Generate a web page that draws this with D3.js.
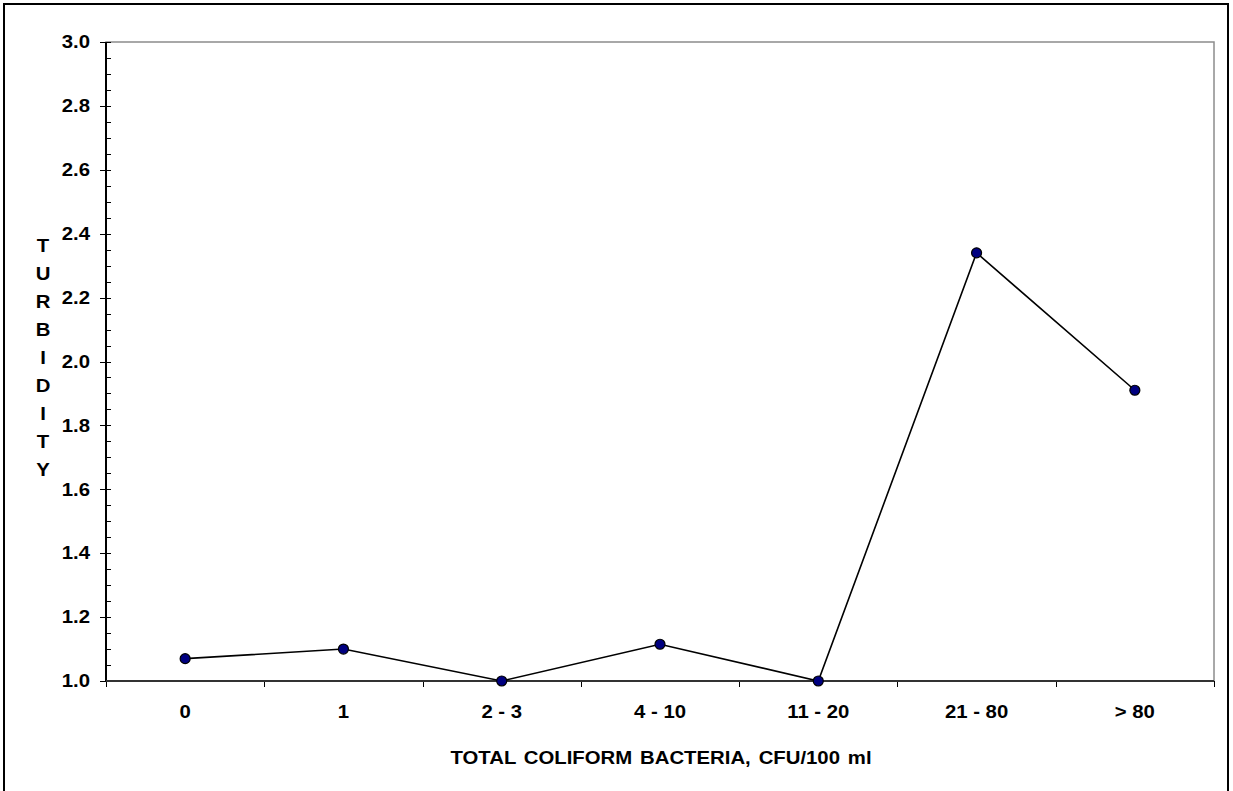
<!DOCTYPE html>
<html>
<head>
<meta charset="utf-8">
<script src="https://cdn.jsdelivr.net/npm/d3@7"></script>
<style>
  html, body { margin: 0; padding: 0; background: #fff; }
  svg { display: block; font-family: "Liberation Sans", Arial, sans-serif; }
</style>
</head>
<body>
<svg id="chart" width="1233" height="791"></svg>
<script>
const categories = ["0", "1", "2 - 3", "4 - 10", "11 - 20", "21 - 80", "> 80"];
const turbidity = [1.07, 1.10, 1.00, 1.115, 1.00, 2.34, 1.91];
const yTicks = [1.0, 1.2, 1.4, 1.6, 1.8, 2.0, 2.2, 2.4, 2.6, 2.8, 3.0];
const yLabelText = "TURBIDITY";
const xLabelText = "TOTAL COLIFORM BACTERIA, CFU/100 ml";

(function () {
const svg = d3.select("#chart");
const pL = 106, pR = 1214, pT = 42, pB = 681;
const SX = 1.13, FS = 18;

// outer frame
svg.append("rect").attr("x", 4).attr("y", 4).attr("width", 1224).attr("height", 800)
  .attr("fill", "none").attr("stroke", "#000").attr("stroke-width", 2);

const x = d3.scaleBand().domain(categories).range([pL, pR]).padding(0);
const y = d3.scaleLinear().domain([1.0, 3.0]).range([pB, pT]);

// plot border (gray)
svg.append("rect").attr("x", pL).attr("y", pT).attr("width", pR - pL).attr("height", pB - pT)
  .attr("fill", "none").attr("stroke", "#8c8c8c").attr("stroke-width", 1.5);

// minor y ticks
const minor = d3.range(1.0, 3.0001, 0.05);
svg.append("g").selectAll("line").data(minor).join("line")
  .attr("x1", pL).attr("x2", pL + 5)
  .attr("y1", d => Math.round(y(d)) + 0.5).attr("y2", d => Math.round(y(d)) + 0.5)
  .attr("stroke", "#000").attr("stroke-width", 1);

// y axis
const yAxis = d3.axisLeft(y).tickValues(yTicks).tickFormat(d3.format(".1f")).tickSize(0).tickPadding(16);
const gy = svg.append("g").attr("transform", `translate(${pL},0)`).call(yAxis);
gy.select(".domain").remove();
gy.selectAll("text").attr("font-size", FS).attr("font-weight", "bold").attr("fill", "#000")
  .attr("font-family", "'Liberation Sans', Arial, sans-serif")
  .attr("x", -16 / SX).attr("transform", `scale(${SX},1)`);
svg.append("g").selectAll("line").data(yTicks).join("line")
  .attr("x1", pL - 6).attr("x2", pL + 5)
  .attr("y1", d => Math.round(y(d)) + 0.5).attr("y2", d => Math.round(y(d)) + 0.5)
  .attr("stroke", "#000").attr("stroke-width", 1);
svg.append("line").attr("x1", pL).attr("x2", pL).attr("y1", pT).attr("y2", pB)
  .attr("stroke", "#000").attr("stroke-width", 2);

// x axis
const xBounds = categories.map(c => x(c)).concat([pR]);
svg.append("g").selectAll("line").data(xBounds).join("line")
  .attr("x1", d => Math.round(d) + 0.5).attr("x2", d => Math.round(d) + 0.5)
  .attr("y1", pB).attr("y2", pB + 6)
  .attr("stroke", "#000").attr("stroke-width", 1);
svg.append("line").attr("x1", pL).attr("x2", pR).attr("y1", pB).attr("y2", pB)
  .attr("stroke", "#333").attr("stroke-width", 2);

svg.append("g").selectAll("text").data(categories).join("text")
  .attr("transform", d => `translate(${x(d) + x.bandwidth() / 2},718) scale(${SX},1)`)
  .attr("text-anchor", "middle").attr("font-size", FS).attr("font-weight", "bold")
  .text(d => d);

// axis titles
svg.append("text").attr("transform", `translate(661,764) scale(${SX},1)`).attr("text-anchor", "middle")
  .attr("font-size", FS).attr("font-weight", "bold").attr("word-spacing", 2).text(xLabelText);

svg.append("g").selectAll("text").data(yLabelText.split("")).join("text")
  .attr("transform", (d, i) => `translate(43,${252 + i * 28}) scale(${SX},1)`)
  .attr("text-anchor", "middle").attr("font-size", FS).attr("font-weight", "bold")
  .text(d => d);

// line + points
const cx = d => x(d) + x.bandwidth() / 2;
const line = d3.line().x((d, i) => cx(categories[i])).y(d => y(d));
svg.append("path").datum(turbidity).attr("d", line)
  .attr("fill", "none").attr("stroke", "#000").attr("stroke-width", 1.6);
svg.append("g").selectAll("circle").data(turbidity).join("circle")
  .attr("cx", (d, i) => cx(categories[i])).attr("cy", d => y(d)).attr("r", 5)
  .attr("fill", "#000080").attr("stroke", "#000").attr("stroke-width", 1.2);
})();
</script>
</body>
</html>
